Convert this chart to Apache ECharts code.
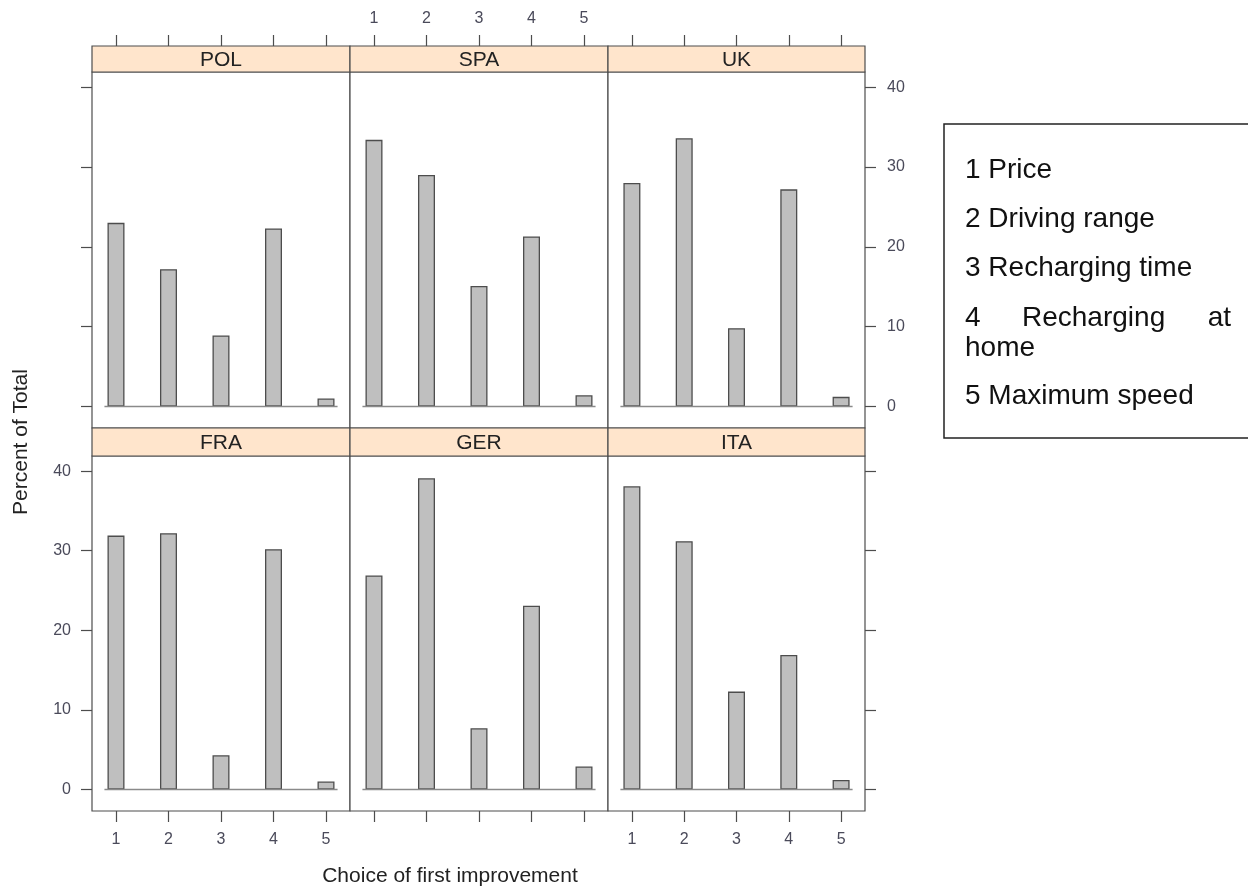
<!DOCTYPE html>
<html>
<head>
<meta charset="utf-8">
<script src="https://cdn.jsdelivr.net/npm/echarts@6/dist/echarts.min.js"></script>
<style>
  html, body { margin: 0; padding: 0; background: #fff; }
  #main { width: 1248px; height: 888px; }
</style>
</head>
<body>
<div id="main"></div>
<script>
// choices of first improvement, one panel per country
const choices = [1, 2, 3, 4, 5];
const countries = ["POL", "SPA", "UK", "FRA", "GER", "ITA"];
const pol = [23.0, 17.2, 8.9, 22.3, 1.0];
const spa = [33.4, 29.0, 15.1, 21.3, 1.4];
const uk = [28.0, 33.6, 9.8, 27.2, 1.2];
const fra = [31.9, 32.2, 4.3, 30.2, 1.0];
const ger = [26.9, 39.1, 7.7, 23.1, 2.9];
const ita = [38.1, 31.2, 12.3, 16.9, 1.2];
const yTicks = [0, 10, 20, 30, 40];
const keyLines = ["1 Price", "2 Driving range", "3 Recharging time", "4 Recharging at home", "5 Maximum speed"];

const values = [pol, spa, uk, fra, ger, ita];

const FONT = '"Liberation Sans", Arial, Helvetica, sans-serif';
const lineCol = "#4d4d4d";
const tickText = "#4a4a5a";

const colX = [92, 350, 608];
const colW = [258, 258, 257];
const stripTop = [46, 428];
const rowTop = [72, 456];
const rowH = [356, 355];
const xMin = 0.543, xMax = 5.457;
const yMin = -2.7, yMax = 41.9;

const grids = [], xAxes = [], yAxes = [], series = [], graphics = [];

countries.forEach((name, i) => {
  const row = i < 3 ? 0 : 1;
  const col = i % 3;
  grids.push({
    left: colX[col], top: rowTop[row], width: colW[col], height: rowH[row],
    show: true, borderColor: lineCol, borderWidth: 1.2, backgroundColor: "#fff",
  });

  // alternating tick labels as in lattice
  const xLabel = row === 0 ? col === 1 : col !== 1;
  xAxes.push({
    gridIndex: i, type: "value", min: xMin, max: xMax,
    position: row === 0 ? "top" : "bottom",
    offset: row === 0 ? 26 : 0,
    axisLine: { show: false, onZero: false },
    splitLine: { show: false },
    axisTick: { show: true, length: 11, customValues: choices, lineStyle: { color: lineCol, width: 1.2 } },
    axisLabel: { show: xLabel, customValues: choices, margin: row === 0 ? 19 : 21, color: tickText, fontSize: 16, fontFamily: FONT },
  });

  const yLabel = (row === 0 && col === 2) || (row === 1 && col === 0);
  yAxes.push({
    gridIndex: i, type: "value", min: yMin, max: yMax,
    show: col !== 1,
    position: col === 2 ? "right" : "left",
    axisLine: { show: false, onZero: false },
    splitLine: { show: false },
    axisTick: { show: true, length: 11, customValues: yTicks, lineStyle: { color: lineCol, width: 1.2 } },
    axisLabel: { show: yLabel, customValues: yTicks, margin: col === 2 ? 22 : 21, color: tickText, fontSize: 16, fontFamily: FONT },
  });

  series.push({
    type: "bar", xAxisIndex: i, yAxisIndex: i, barWidth: 17,
    silent: true,
    itemStyle: { color: "#bfbfbf", borderColor: lineCol, borderWidth: 1.3 },
    data: choices.map((c, j) => [c, values[i][j]]),
  });
  // base line under the bars
  series.push({
    type: "line", xAxisIndex: i, yAxisIndex: i, symbol: "none", silent: true, z: 3,
    lineStyle: { color: "#8a8a8a", width: 1.5 },
    data: [[choices[0] - 0.22, 0], [choices[choices.length - 1] + 0.22, 0]],
  });

  // strip
  graphics.push({
    type: "rect",
    shape: { x: colX[col], y: stripTop[row], width: colW[col], height: rowTop[row] - stripTop[row] },
    style: { fill: "#ffe5cc", stroke: lineCol, lineWidth: 1.2 },
  });
  graphics.push({
    type: "text",
    x: colX[col] + colW[col] / 2, y: (stripTop[row] + rowTop[row]) / 2 + 1,
    style: { text: name, font: "21px " + FONT, fill: "#222", align: "center", verticalAlign: "middle" },
  });
});

// axis titles
graphics.push({
  type: "text", x: 450, y: 876,
  style: { text: "Choice of first improvement", font: "21px " + FONT, fill: "#222", align: "center", verticalAlign: "middle" },
});
graphics.push({
  type: "text", x: 21, y: 442, rotation: Math.PI / 2,
  style: { text: "Percent of Total", font: "21px " + FONT, fill: "#222", align: "center", verticalAlign: "middle" },
});

// key box
graphics.push({
  type: "rect",
  shape: { x: 944, y: 124, width: 330, height: 314 },
  style: { fill: "none", stroke: "#222", lineWidth: 1.5 },
});
const keyFont = "28px " + FONT;
const keyX = 965;
const keyY = [170, 219, 268, 318, 396];
keyLines.forEach((t, k) => {
  if (k === 3) {
    // justified paragraph: "4   Recharging   at" / "home"
    const words = t.split(" ");
    graphics.push({ type: "text", x: keyX, y: keyY[k], style: { text: words[0], font: keyFont, fill: "#111", align: "left", verticalAlign: "middle" } });
    graphics.push({ type: "text", x: 1022, y: keyY[k], style: { text: words[1], font: keyFont, fill: "#111", align: "left", verticalAlign: "middle" } });
    graphics.push({ type: "text", x: 1231, y: keyY[k], style: { text: words[2], font: keyFont, fill: "#111", align: "right", verticalAlign: "middle" } });
    graphics.push({ type: "text", x: keyX, y: keyY[k] + 30, style: { text: words[3], font: keyFont, fill: "#111", align: "left", verticalAlign: "middle" } });
  } else {
    graphics.push({ type: "text", x: keyX, y: keyY[k], style: { text: t, font: keyFont, fill: "#111", align: "left", verticalAlign: "middle" } });
  }
});

const chart = echarts.init(document.getElementById("main"), null, { renderer: "canvas" });
chart.setOption({
  backgroundColor: "#fff",
  animation: false,
  grid: grids,
  xAxis: xAxes,
  yAxis: yAxes,
  series: series,
  graphic: graphics,
});
</script>
</body>
</html>
